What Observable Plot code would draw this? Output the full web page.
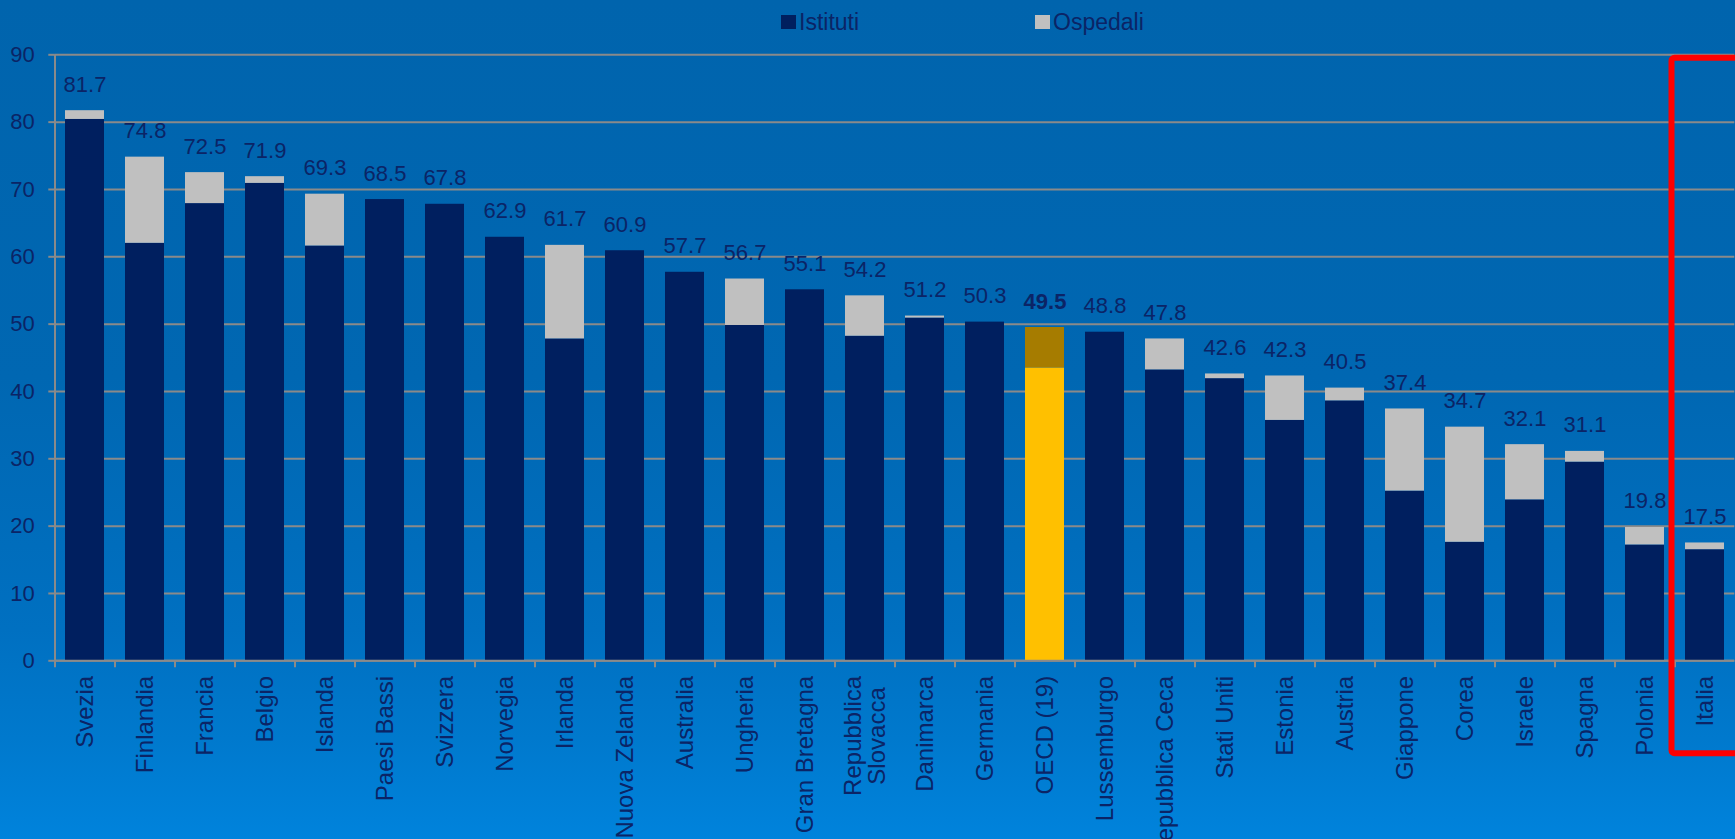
<!DOCTYPE html>
<html>
<head>
<meta charset="utf-8">
<script src="https://cdn.jsdelivr.net/npm/d3@7"></script>
<script src="https://cdn.jsdelivr.net/npm/@observablehq/plot@0.6"></script>
<style>
  html, body { margin: 0; padding: 0; width: 1735px; height: 839px; overflow: hidden; }
  body {
    background: linear-gradient(to bottom, #0064ad 0%, #0067b2 45%, #0070c1 75%, #0079cd 88%, #0083dc 100%);
    font-family: Arial, "Liberation Sans", sans-serif;
  }
  #legend { position: relative; width: 1735px; height: 40px; }
  .lg-item { position: absolute; top: 0; height: 40px; }
  .lg-sw { position: absolute; top: 15px; width: 15px; height: 14px; }
  .lg-tx { position: absolute; top: 11px; font-size: 23px; line-height: 23px; color: #0b2466; white-space: nowrap; }
  #chart svg { display: block; }
</style>
</head>
<body>
<div id="legend"></div>
<div id="chart"></div>
<script>
// ---- data ----
const countries = ["Svezia","Finlandia","Francia","Belgio","Islanda","Paesi Bassi","Svizzera","Norvegia","Irlanda","Nuova Zelanda","Australia","Ungheria","Gran Bretagna","Repubblica Slovacca","Danimarca","Germania","OECD (19)","Lussemburgo","Repubblica Ceca","Stati Uniti","Estonia","Austria","Giappone","Corea","Israele","Spagna","Polonia","Italia"];
const tickLabels = ["Svezia","Finlandia","Francia","Belgio","Islanda","Paesi Bassi","Svizzera","Norvegia","Irlanda","Nuova Zelanda","Australia","Ungheria","Gran Bretagna","Repubblica\nSlovacca\u00a0\u2009","Danimarca","Germania","OECD (19)","Lussemburgo","Repubblica Ceca","Stati Uniti","Estonia","Austria","Giappone","Corea","Israele","Spagna","Polonia","Italia"];
const totals    = [81.7, 74.8, 72.5, 71.9, 69.3, 68.5, 67.8, 62.9, 61.7, 60.9, 57.7, 56.7, 55.1, 54.2, 51.2, 50.3, 49.5, 48.8, 47.8, 42.6, 42.3, 40.5, 37.4, 34.7, 32.1, 31.1, 19.8, 17.5];
const istituti  = [80.4, 62.0, 67.9, 70.9, 61.6, 68.5, 67.8, 62.9, 47.8, 60.9, 57.7, 49.8, 55.1, 48.2, 50.9, 50.3, 43.5, 48.8, 43.2, 41.9, 35.7, 38.6, 25.2, 17.6, 23.9, 29.5, 17.2, 16.5];
const ospedali  = [ 1.3, 12.8,  4.6,  1.0,  7.7,  0.0,  0.0,  0.0, 13.9,  0.0,  0.0,  6.9,  0.0,  6.0,  0.3,  0.0,  6.0,  0.0,  4.6,  0.7,  6.6,  1.9, 12.2, 17.1,  8.2,  1.6,  2.6,  1.0];
const yTicks = [0, 10, 20, 30, 40, 50, 60, 70, 80, 90];
const seriesNames = ["Istituti", "Ospedali"];
const reference = "OECD (19)";
const highlighted = ["Italia"];
const highlightSpan = [-13.8, 89.5];

// ---- styles ----
const navy = "#001f5f", gray = "#c0c0c0";
const refLow = "#ffc000", refHigh = "#a67c00";
const gridColor = "#8a8a8a", textColor = "#0b2466";

const rows = countries.map((c, i) => ({
  country: c, label: tickLabels[i], total: totals[i], istituti: istituti[i], ospedali: ospedali[i]
}));
const labelOf = new Map(rows.map(d => [d.country, d.label]));

// legend
const legend = document.getElementById("legend");
[[seriesNames[0], navy, 781], [seriesNames[1], gray, 1035]].forEach(([name, col, left]) => {
  const item = document.createElement("div");
  item.className = "lg-item";
  item.style.left = left + "px";
  item.innerHTML = `<div class="lg-sw" style="left:0;background:${col}"></div><div class="lg-tx" style="left:18px">${name}</div>`;
  legend.appendChild(item);
});

const chart = Plot.plot({
  width: 1735,
  height: 799,
  marginTop: 14.3,
  marginBottom: 178.7,
  marginLeft: 54.3,
  marginRight: 0.7,
  style: { background: "transparent", fontFamily: "Arial, 'Liberation Sans', sans-serif", color: textColor, overflow: "visible" },
  x: { domain: countries, paddingInner: 0.355, paddingOuter: 0.1775, label: null },
  y: { domain: [0, 90], label: null },
  marks: [
    Plot.gridY({ ticks: yTicks, stroke: gridColor, strokeOpacity: 1, strokeWidth: 2 }),
    Plot.axisY({ ticks: yTicks, tickSize: 6, tickPadding: 14, fontSize: 22, stroke: gridColor, strokeWidth: 2, fill: textColor, label: null }),
    Plot.ruleX([countries[0]], { x: d => d, y1: 0, y2: 90, dx: -30, stroke: gridColor, strokeWidth: 2 }),
    Plot.axisX({ tickSize: 7, tickFormat: () => "", dx: -30, stroke: gridColor, strokeWidth: 2, label: null }),
    Plot.axisX({ tickSize: 0, tickPadding: 15, tickRotate: -90, fontSize: 24, fill: textColor, label: null, tickFormat: d => labelOf.get(d) }),
    Plot.barY(rows, { x: "country", y1: 0, y2: "istituti", fill: d => d.country === reference ? refLow : navy }),
    Plot.barY(rows.filter(d => d.ospedali > 0), { x: "country", y1: "istituti", y2: d => d.istituti + d.ospedali, fill: d => d.country === reference ? refHigh : gray }),
    Plot.ruleY([0], { stroke: gridColor, strokeWidth: 2 }),
    Plot.text(rows.filter(d => d.country !== reference), { x: "country", y: "total", text: d => d.total.toFixed(1), dy: -19, lineAnchor: "bottom", fontSize: 22, fill: textColor }),
    Plot.text(rows.filter(d => d.country === reference), { x: "country", y: "total", text: d => d.total.toFixed(1), dy: -19, lineAnchor: "bottom", fontSize: 22, fontWeight: "bold", fill: textColor }),
    Plot.barY(highlighted, { x: d => d, y1: highlightSpan[0], y2: highlightSpan[1], fill: "none", stroke: "#ff0000", strokeWidth: 6, rx: 3, insetLeft: -13.5, insetRight: -40 })
  ]
});
document.getElementById("chart").appendChild(chart);
</script>
</body>
</html>
